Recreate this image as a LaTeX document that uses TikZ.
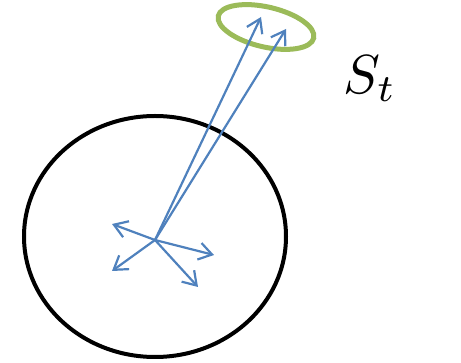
\documentclass[tikz,border=0pt]{standalone}
\usetikzlibrary{arrows.meta,shapes.geometric}
\definecolor{arrblue}{RGB}{79,129,189}
\definecolor{ringgreen}{RGB}{155,187,89}
\begin{document}
\begin{tikzpicture}[x=1pt,y=-1pt,
  vec/.style={draw=arrblue,line width=2.2pt,-{Straight Barb[length=13pt,width=17pt,line width=2.2pt]}}]
\useasboundingbox (0,0) rectangle (461,363);
\node[draw,line width=4pt,ellipse,minimum width=262pt,minimum height=241pt,inner sep=0pt] (ball) at (155,236.5) {};
\draw[ringgreen,line width=5pt,rotate around={-13:(266,27)}] (266,27) ellipse [x radius=49pt,y radius=20pt];
\coordinate (ring) at (266,27);
\coordinate (o) at (155,240);
\coordinate (t1) at (261,17);
\coordinate (t2) at (286,29);
\coordinate (t3) at (112,224);
\coordinate (t4) at (112,271);
\coordinate (t5) at (214,255);
\coordinate (t6) at (198,287);
\draw[vec] (o) -- (t1);
\draw[vec] (o) -- (t2);
\draw[vec] (o) -- (t3);
\draw[vec] (o) -- (t4);
\draw[vec] (o) -- (t5);
\draw[vec] (o) -- (t6);
\node[anchor=center,inner sep=0pt,scale=5.5] (lab) at (370,79) {$S_t$};
\end{tikzpicture}
\end{document}
